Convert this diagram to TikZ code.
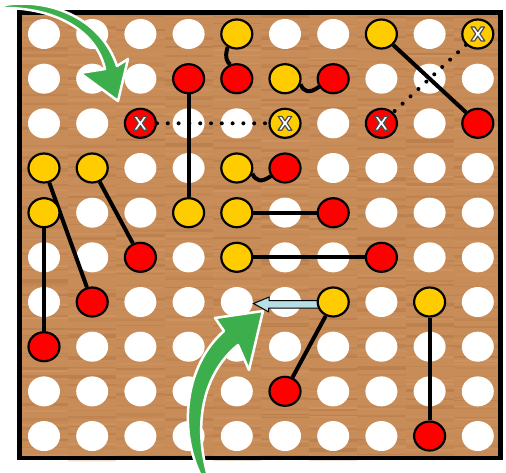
\documentclass[tikz,border=0pt]{standalone}
\usepackage{fontspec}
\newfontfamily\xfont{DejaVu Sans}
\usetikzlibrary{shapes.geometric}
\definecolor{wood}{RGB}{200,140,88}
\definecolor{wooddark}{RGB}{160,100,55}
\definecolor{woodlight}{RGB}{225,170,115}
\definecolor{pegY}{RGB}{255,204,0}
\definecolor{pegR}{RGB}{255,0,0}
\definecolor{arrowgreen}{RGB}{60,174,76}
\definecolor{lightblue}{RGB}{183,221,230}
\pgfdeclarelayer{woodlayer}
\pgfdeclarelayer{holelayer}
\pgfdeclarelayer{wirelayer}
\pgfsetlayers{woodlayer,holelayer,wirelayer,main}
\newcommand{\xglyph}{{\xfont\bfseries\fontsize{19}{19}\selectfont X}}
\newcommand{\outX}{\textcolor{white}{%
  \special{pdf:literal direct 2 Tr 1.2 w 1 j 0.3 0.3 0.3 RG}%
  \xglyph
  \special{pdf:literal direct 0 Tr 0.4 w 0 j 0 0 0 RG}}}
\tikzset{
  hole/.style={ellipse, fill=white, minimum width=32pt, minimum height=30pt, inner sep=0pt},
  peg/.style={ellipse, draw=black, line width=2.2pt, minimum width=31pt, minimum height=29pt, inner sep=0pt},
  yp/.style={peg, fill=pegY},
  rp/.style={peg, fill=pegR},
  wire/.style={line width=4pt, draw=black},
  dotwire/.style={line width=4pt, draw=black, dash pattern=on 0pt off 10.8pt, line cap=round},
  bigarrow/.style={fill=arrowgreen, draw=white, line width=2.5pt, line join=round},
  pointer/.style={fill=lightblue, draw=black, line width=1pt, line join=miter},
  board/.style={draw=black, line width=4.5pt}
}
\begin{document}
\begin{tikzpicture}[x=1pt,y=-1pt]
\useasboundingbox (0,0) rectangle (506,472);
\pgfmathsetseed{11}
% board
\begin{pgfonlayer}{woodlayer}
  \fill[wood] (19.5,12.5) rectangle (500.5,458);
  \foreach \c in {0,...,9}{
    \foreach \i in {0,...,44}{
      \pgfmathsetmacro\xa{20+\c*48.2}
      \pgfmathsetmacro\yy{13+\i*10+rnd*6}
      \pgfmathsetmacro\hh{1+rnd*3}
      \pgfmathsetmacro\op{0.08+rnd*0.22}
      \fill[wooddark, opacity=\op] (\xa,\yy) rectangle (\xa+48.2,\yy+\hh);
      \pgfmathsetmacro\yb{13+\i*10+rnd*8}
      \pgfmathsetmacro\ob{rnd*0.25}
      \fill[woodlight, opacity=\ob] (\xa,\yb) rectangle (\xa+48.2,\yb+2);
    }
  }
  \draw[board] (19.5,12.5) rectangle (500.5,458);
\end{pgfonlayer}
% holes
\begin{pgfonlayer}{holelayer}
  \foreach \c in {0,...,9}{
    \foreach \r in {0,...,9}{
      \node[hole] (h\c\r) at ({44+48.2*\c},{34+44.67*\r}) {};
    }
  }
\end{pgfonlayer}
% pegs
\node[yp] (y40) at (236.8,34) {};
\node[yp] (y70) at (381.4,34) {};
\node[yp] (yx90) at (477.8,34) {\outX};
\node[rp] (r31) at (188.6,78.7) {};
\node[rp] (r41) at (236.8,78.7) {};
\node[yp] (y51) at (285,78.7) {};
\node[rp] (r61) at (333.2,78.7) {};
\node[rp] (rx22) at (140.4,123.3) {\outX};
\node[yp] (yx52) at (285,123.3) {\outX};
\node[rp] (rx72) at (381.4,123.3) {\outX};
\node[rp] (r92) at (477.8,123.3) {};
\node[yp] (y03) at (44,168) {};
\node[yp] (y13) at (92.2,168) {};
\node[yp] (y43) at (236.8,168) {};
\node[rp] (r53) at (285,168) {};
\node[yp] (y04) at (44,212.7) {};
\node[yp] (y34) at (188.6,212.7) {};
\node[yp] (y44) at (236.8,212.7) {};
\node[rp] (r64) at (333.2,212.7) {};
\node[rp] (r25) at (140.4,257.3) {};
\node[yp] (y45) at (236.8,257.3) {};
\node[rp] (r75) at (381.4,257.3) {};
\node[rp] (r16) at (92.2,302) {};
\node[yp] (y66) at (333.2,302) {};
\node[yp] (y86) at (429.6,302) {};
\node[rp] (r07) at (44,346.7) {};
\node[rp] (r58) at (285,391.3) {};
\node[rp] (r89) at (429.6,436) {};
\coordinate (tip) at (253.5,303.5);
% wires
\begin{pgfonlayer}{wirelayer}
  \draw[wire] (r31) -- (y34);
  \draw[wire] (y70) -- (r92);
  \draw[wire] (y03) -- (r16);
  \draw[wire] (y13) -- (r25);
  \draw[wire] (y04) -- (r07);
  \draw[wire] (y44) -- (r64);
  \draw[wire] (y45) -- (r75);
  \draw[wire] (y66) -- (r58);
  \draw[wire] (y86) -- (r89);
  \draw[dotwire] (rx22) -- (yx52);
  \draw[dotwire] (yx90) -- (rx72);
  \draw[wire] (y40.235) .. controls (224,58) and (228,63) .. (r41.115);
  \draw[wire] (y51.-20) .. controls (304,92) and (309,94) .. (r61.-150);
  \draw[wire] (y43.-20) .. controls (256,181) and (261,183) .. (r53.-150);
  \draw[pointer] (y66.center) ++(0,-1.3) -- ++(-64,0) -- ++(0,-3.7) -- (tip)
     -- ++(15,8.3) -- ++(0,-3.7) -- ++(65,0) -- cycle;
\end{pgfonlayer}
% green arrows
\draw[bigarrow] (4,5) .. controls (45,-2) and (100,15) .. (117,66) -- (128,59) -- (118,101)
   -- (80,73) -- (105,69) .. controls (96,30) and (55,8) .. (4,8) -- cycle;
\draw[bigarrow] (201,476) .. controls (178,430) and (185,365) .. (224,331) -- (215,318)
   -- (263,311) -- (249,370) -- (238,345) .. controls (205,372) and (192,420) .. (208,476) -- cycle;
\end{tikzpicture}
\end{document}
